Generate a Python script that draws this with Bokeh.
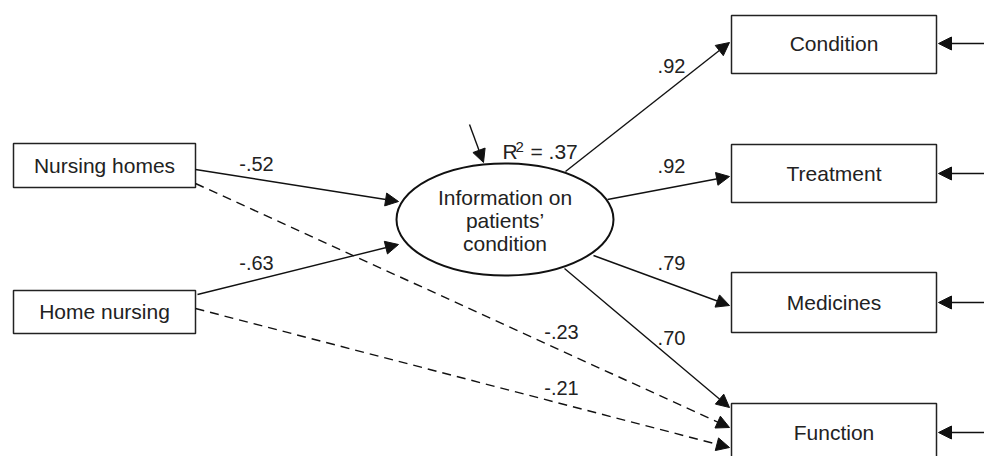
from bokeh.plotting import figure
from bokeh.models import Range1d, Arrow, NormalHead
from bokeh.core.properties import value
from bokeh.embed import file_html
from bokeh.resources import INLINE

# ---- data ----
exogenous = ["Nursing homes", "Home nursing"]
latent_lines = ["Information on", "patients\u2019", "condition"]
indicators = ["Condition", "Treatment", "Medicines", "Function"]
loadings = [".92", ".92", ".79", ".70"]
paths_to_latent = ["-.52", "-.63"]
paths_to_function = ["-.23", "-.21"]
r_squared = ".37"

# ---- layout (pixel positions of the diagram) ----
exo_box = {"left": 13, "right": 195, "top": [143, 290], "bottom": [187, 333]}
ind_box = {"left": 731, "right": 936, "top": [15, 144, 272, 403], "bottom": [73, 202, 332, 470]}
ind_text_y = [43, 173, 302, 432]
ell = {"x": 504.5, "y": 219, "w": 217, "h": 112}

FONT = value("Liberation Sans")
W, H = 984, 456
p = figure(width=W, height=H, output_backend="svg", toolbar_location=None,
           x_range=Range1d(0, W), y_range=Range1d(H, 0), min_border=0)
p.axis.visible = False
p.xgrid.visible = False
p.ygrid.visible = False
p.outline_line_color = None
p.background_fill_color = "white"

# boxes
p.quad(left=[exo_box["left"]] * 2, right=[exo_box["right"]] * 2,
       top=exo_box["top"], bottom=exo_box["bottom"],
       fill_color="white", line_color="#222222", line_width=1.5)
p.quad(left=[ind_box["left"]] * 4, right=[ind_box["right"]] * 4,
       top=ind_box["top"], bottom=ind_box["bottom"],
       fill_color="white", line_color="#222222", line_width=1.5)

# ellipse
p.ellipse(x=[ell["x"]], y=[ell["y"]], width=[ell["w"]], height=[ell["h"]],
          fill_color="white", line_color="#111111", line_width=2)

def arrow(x0, y0, x1, y1, dash="solid"):
    a = Arrow(end=NormalHead(size=13, fill_color="#111111", line_color="#111111", line_width=1),
              x_start=x0, y_start=y0, x_end=x1, y_end=y1,
              line_color="#111111", line_width=1.4, line_dash=dash)
    p.add_layout(a)

# exogenous -> latent
arrow(195, 169, 398, 201)
arrow(197, 294, 398, 244)
# latent -> indicators
arrow(565, 171, 729, 42)
arrow(607, 199, 729, 176)
arrow(593, 255, 729, 305)
arrow(564, 268, 729, 407)
# direct dashed paths
arrow(195, 183, 729, 427, "9 6")
arrow(195, 308, 729, 447, "9 6")
# error terms
for yy in ind_text_y:
    arrow(990, yy, 938, yy)
arrow(469, 124, 483, 162)

txt = dict(text_font=FONT, text_color="#222222", text_baseline="middle")

# box texts
p.text(x=[104, 104], y=[165, 311], text=exogenous, text_align="center",
       text_font_size="21px", **txt)
p.text(x=[833.5] * 4, y=ind_text_y, text=indicators, text_align="center",
       text_font_size="21px", **txt)
# latent text
p.text(x=[ell["x"]] * 3, y=[197, 220, 243], text=latent_lines, text_align="center",
       text_font_size="21px", **txt)

# coefficients
p.text(x=[256, 256], y=[163, 262], text=paths_to_latent, text_align="center",
       text_font_size="20px", **txt)
p.text(x=[671] * 4, y=[65, 165, 262, 337], text=loadings, text_align="center",
       text_font_size="20px", **txt)
p.text(x=[561, 561], y=[331, 387], text=paths_to_function, text_align="center",
       text_font_size="20px", **txt)

# R^2
p.text(x=[502], y=[151], text=["R"], text_align="left", text_font_size="21px", **txt)
p.text(x=[515], y=[146], text=["2"], text_align="left", text_font_size="15px", **txt)
p.text(x=[530], y=[151], text=["= " + r_squared], text_align="left", text_font_size="21px", **txt)

open("out.html", "w").write(file_html(p, INLINE))
